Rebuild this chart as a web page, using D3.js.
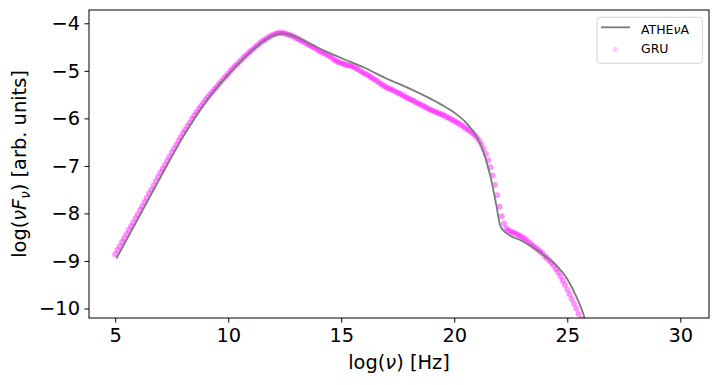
<!DOCTYPE html>
<html><head><meta charset="utf-8">
<script src="https://cdn.jsdelivr.net/npm/d3@7"></script>
<style>
body{margin:0;background:#fff;}
text{font-family:"DejaVu Sans",sans-serif;}
</style></head>
<body><svg id="c" width="719" height="385"></svg>
<script>
const xTicks = [5, 10, 15, 20, 25, 30];
const yTicks = [-10, -9, -8, -7, -6, -5, -4];
const seriesNames = ["ATHE", "GRU"];

// ATHEvA model curve: log(nu), log(nu F_nu)
const atheX = [5.05,6.0,7.0,8.0,9.0,10.0,11.0,11.5,12.0,12.4,12.8,13.5,14.0,15.0,16.0,17.0,18.0,19.0,19.5,20.0,20.5,21.0,21.3,21.6,21.85,22.05,22.3,23.0,23.5,24.0,24.5,25.0,25.4,25.7,26.0];
const atheY = [-8.95,-8.12,-7.24,-6.39,-5.66,-5.08,-4.6,-4.4,-4.26,-4.21,-4.25,-4.40,-4.52,-4.73,-4.93,-5.16,-5.37,-5.60,-5.73,-5.88,-6.08,-6.39,-6.72,-7.22,-7.8,-8.28,-8.41,-8.58,-8.72,-8.89,-9.08,-9.38,-9.75,-10.1,-10.6];

// GRU predicted points
const gruX = [5.0,5.1,5.2,5.3,5.4,5.5,5.6,5.7,5.8,5.9,6.0,6.1,6.2,6.3,6.4,6.5,6.6,6.7,6.8,6.9,7.0,7.1,7.2,7.3,7.4,7.5,7.6,7.7,7.8,7.9,8.0,8.1,8.2,8.3,8.4,8.5,8.6,8.7,8.8,8.9,9.0,9.1,9.2,9.3,9.4,9.5,9.6,9.7,9.8,9.9,10.0,10.1,10.2,10.3,10.4,10.5,10.6,10.7,10.8,10.9,11.0,11.1,11.2,11.3,11.4,11.5,11.6,11.7,11.8,11.9,12.0,12.1,12.2,12.3,12.4,12.5,12.6,12.7,12.8,12.9,13.0,13.1,13.2,13.3,13.4,13.5,13.6,13.7,13.8,13.9,14.0,14.1,14.2,14.3,14.4,14.5,14.6,14.7,14.8,14.9,15.0,15.1,15.2,15.3,15.4,15.5,15.6,15.7,15.8,15.9,16.0,16.1,16.2,16.3,16.4,16.5,16.6,16.7,16.8,16.9,17.0,17.1,17.2,17.3,17.4,17.5,17.6,17.7,17.8,17.9,18.0,18.1,18.2,18.3,18.4,18.5,18.6,18.7,18.8,18.9,19.0,19.1,19.2,19.3,19.4,19.5,19.6,19.7,19.8,19.9,20.0,20.1,20.2,20.3,20.4,20.5,20.6,20.7,20.8,20.9,21.0,21.1,21.2,21.3,21.4,21.5,21.6,21.7,21.8,21.9,22.0,22.1,22.2,22.3,22.4,22.5,22.6,22.7,22.8,22.9,23.0,23.1,23.2,23.3,23.4,23.5,23.6,23.7,23.8,23.9,24.0,24.1,24.2,24.3,24.4,24.5,24.6,24.7,24.8,24.9,25.0,25.1,25.2,25.3,25.4,25.5,25.6,25.7];
const gruY = [-8.86,-8.77,-8.69,-8.60,-8.52,-8.44,-8.35,-8.27,-8.19,-8.10,-8.02,-7.93,-7.85,-7.76,-7.67,-7.58,-7.50,-7.41,-7.32,-7.23,-7.14,-7.06,-6.98,-6.89,-6.81,-6.72,-6.64,-6.56,-6.47,-6.39,-6.31,-6.24,-6.16,-6.09,-6.01,-5.94,-5.87,-5.80,-5.74,-5.67,-5.61,-5.55,-5.49,-5.44,-5.38,-5.33,-5.27,-5.22,-5.16,-5.11,-5.06,-5.00,-4.95,-4.90,-4.86,-4.81,-4.76,-4.71,-4.67,-4.62,-4.58,-4.54,-4.50,-4.46,-4.42,-4.38,-4.35,-4.32,-4.29,-4.26,-4.24,-4.22,-4.21,-4.20,-4.21,-4.21,-4.23,-4.24,-4.26,-4.28,-4.31,-4.33,-4.36,-4.38,-4.41,-4.44,-4.46,-4.49,-4.51,-4.54,-4.57,-4.60,-4.62,-4.64,-4.67,-4.70,-4.73,-4.77,-4.80,-4.82,-4.84,-4.85,-4.87,-4.88,-4.89,-4.91,-4.93,-4.96,-4.99,-5.02,-5.05,-5.07,-5.10,-5.13,-5.16,-5.19,-5.22,-5.26,-5.29,-5.32,-5.35,-5.37,-5.39,-5.41,-5.44,-5.46,-5.48,-5.51,-5.54,-5.56,-5.59,-5.61,-5.63,-5.66,-5.68,-5.71,-5.73,-5.76,-5.78,-5.81,-5.83,-5.85,-5.87,-5.89,-5.91,-5.93,-5.95,-5.98,-6.00,-6.03,-6.05,-6.08,-6.11,-6.14,-6.17,-6.21,-6.24,-6.27,-6.31,-6.35,-6.40,-6.47,-6.55,-6.64,-6.75,-6.88,-7.03,-7.20,-7.40,-7.62,-7.86,-8.06,-8.21,-8.31,-8.36,-8.38,-8.40,-8.42,-8.45,-8.47,-8.50,-8.53,-8.57,-8.61,-8.65,-8.69,-8.72,-8.76,-8.80,-8.84,-8.90,-8.94,-8.99,-9.04,-9.10,-9.17,-9.24,-9.32,-9.41,-9.50,-9.60,-9.70,-9.80,-9.90,-10.00,-10.11,-10.22,-10.34];

const svg = d3.select("#c");
const L = 89, R = 709, T = 10, B = 318;
const FS = 19.4;
const x = d3.scaleLinear().domain([3.84, 31.27]).range([L, R]);
const y = d3.scaleLinear().domain([-10.2, -3.72]).range([B, T]);

svg.append("defs").append("clipPath").attr("id", "clip")
  .append("rect").attr("x", L).attr("y", T).attr("width", R - L).attr("height", B - T);

const plot = svg.append("g").attr("clip-path", "url(#clip)");

plot.selectAll("circle.gru").data(gruX.map((v, i) => [v, gruY[i]])).join("circle")
  .attr("class", "gru")
  .attr("cx", d => x(d[0])).attr("cy", d => y(d[1])).attr("r", 3)
  .attr("fill", "#ff00ff").attr("fill-opacity", 0.42);

const line = d3.line().x(d => x(d[0])).y(d => y(d[1])).curve(d3.curveMonotoneX);
plot.append("path").datum(atheX.map((v, i) => [v, atheY[i]]))
  .attr("d", line).attr("fill", "none").attr("stroke", "#7a7a7a").attr("stroke-width", 1.8);

// axes
const fmt = d3.format("d");
const xa = svg.append("g").attr("transform", `translate(0,${B})`)
  .call(d3.axisBottom(x).tickValues(xTicks).tickFormat(fmt).tickSize(4.5).tickPadding(5));
const ya = svg.append("g").attr("transform", `translate(${L},0)`)
  .call(d3.axisLeft(y).tickValues(yTicks).tickFormat(fmt).tickSize(4.5).tickPadding(4.5));
[xa, ya].forEach(a => {
  a.select(".domain").remove();
  a.selectAll("text").attr("font-size", FS).attr("fill", "#000").attr("font-family", "DejaVu Sans");
  a.selectAll("line").attr("stroke", "#000").attr("stroke-width", 1);
});
xa.selectAll("text").attr("dy", "0.76em");

svg.append("rect").attr("x", L).attr("y", T).attr("width", R - L).attr("height", B - T)
  .attr("fill", "none").attr("stroke", "#000").attr("stroke-width", 1);

// axis labels
const xl = svg.append("text").attr("x", (L + R) / 2).attr("y", 369).attr("text-anchor", "middle")
  .attr("font-size", FS);
xl.append("tspan").text("log(");
xl.append("tspan").attr("font-style", "italic").text("\u03BD");
xl.append("tspan").text(") [Hz]");
const yl = svg.append("text").attr("transform", `translate(26,${(T + B) / 2}) rotate(-90)`)
  .attr("text-anchor", "middle").attr("font-size", FS);
yl.append("tspan").text("log(");
yl.append("tspan").attr("font-style", "italic").text("\u03BDF");
yl.append("tspan").attr("font-style", "italic").attr("font-size", 13.5).attr("dy", 4).text("\u03BD");
yl.append("tspan").attr("dy", -4).text(") [arb. units]");

// legend
const lg = svg.append("g");
lg.append("rect").attr("x", 597).attr("y", 17.3).attr("width", 105.3).attr("height", 46).attr("rx", 3)
  .attr("fill", "#fff").attr("fill-opacity", 0.8).attr("stroke", "#d5d5d5").attr("stroke-width", 1);
lg.append("line").attr("x1", 601).attr("x2", 630).attr("y1", 27.3).attr("y2", 27.3)
  .attr("stroke", "#7a7a7a").attr("stroke-width", 1.8);
lg.append("circle").attr("cx", 615.3).attr("cy", 49.3).attr("r", 2.5).attr("fill", "#ff00ff").attr("fill-opacity", 0.22);
const t1 = lg.append("text").attr("x", 641).attr("y", 34.2).attr("font-size", 12.5);
t1.append("tspan").text(seriesNames[0]);
t1.append("tspan").attr("font-style", "italic").text("\u03BD");
t1.append("tspan").text("A");
lg.append("text").attr("x", 641).attr("y", 53.3).attr("font-size", 12.5).text(seriesNames[1]);
</script></body></html>
